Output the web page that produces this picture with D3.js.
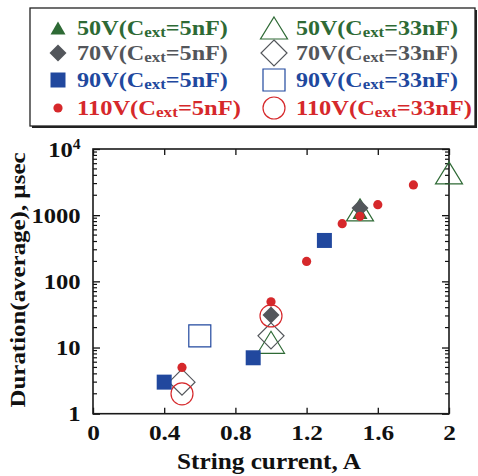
<!DOCTYPE html>
<html>
<head>
<meta charset="utf-8">
<script src="https://cdn.jsdelivr.net/npm/d3@7"></script>
<style>
  body { margin: 0; background: #fff; }
  text { font-family: "Liberation Serif", "Times New Roman", serif; font-weight: bold; }
</style>
</head>
<body>
<div id="chart"></div>
<script>
const xTicks = [0, 0.4, 0.8, 1.2, 1.6, 2];
const yTicks = [1, 10, 100, 1000, 10000];
const yTickLabels = ["1", "10", "100", "1000", "10^4"];

const voltages = ["50V", "70V", "90V", "110V"];
const caps = ["5nF", "33nF"];

// 5nF (filled markers)
const cur50_5 = [1.5],               dur50_5 = [1100];
const cur70_5 = [1.0, 1.5],          dur70_5 = [31, 1280];
const cur90_5 = [0.4, 0.9, 1.3],     dur90_5 = [3, 7, 415];
const cur110_5 = [0.5, 1.0, 1.2, 1.4, 1.5, 1.6, 1.8];
const dur110_5 = [5, 49, 200, 745, 960, 1440, 2860];

// 33nF (open markers)
const cur50_33 = [1.0, 1.5, 2.0],    dur50_33 = [12, 1200, 4350];
const cur70_33 = [0.5, 1.0],         dur70_33 = [3, 15];
const cur90_33 = [0.6],              dur90_33 = [15];
const cur110_33 = [0.5, 1.0],        dur110_33 = [2, 30];

const COLORS = {
    "50V": "#2e6a35",
    "70V": "#53565b",
    "90V": "#21489e",
    "110V": "#d6282b"
};

const zip = (xs, ys) => xs.map((x, i) => ({ x, y: ys[i] }));

// drawing order: open first, filled on top
const series = [
    { v: "50V", cap: "33nF", shape: "triangle", open: true, data: zip(cur50_33, dur50_33) },
    { v: "70V", cap: "33nF", shape: "diamond", open: true, data: zip(cur70_33, dur70_33) },
    { v: "90V", cap: "33nF", shape: "square", open: true, data: zip(cur90_33, dur90_33) },
    { v: "110V", cap: "33nF", shape: "circle", open: true, data: zip(cur110_33, dur110_33) },
    { v: "50V", cap: "5nF", shape: "triangle", open: false, data: zip(cur50_5, dur50_5) },
    { v: "70V", cap: "5nF", shape: "diamond", open: false, data: zip(cur70_5, dur70_5) },
    { v: "90V", cap: "5nF", shape: "square", open: false, data: zip(cur90_5, dur90_5) },
    { v: "110V", cap: "5nF", shape: "circle", open: false, data: zip(cur110_5, dur110_5) }
];

// marker geometry, centred on (0,0)
function shapePath(shape, open) {
    if (shape === "triangle") {
        const w = open ? 27 : 15, h = open ? 22 : 13;
        return `M0,${-h / 2}L${w / 2},${h / 2}L${-w / 2},${h / 2}Z`;
    }
    if (shape === "diamond") {
        const r = open ? 13 : 8.5;
        return `M0,${-r}L${r},0L0,${r}L${-r},0Z`;
    }
    if (shape === "square") {
        const s = open ? 22 : 15;
        return `M${-s / 2},${-s / 2}h${s}v${s}h${-s}Z`;
    }
    const r = open ? 11 : 4.6;
    return `M${r},0A${r},${r} 0 1,1 ${-r},0A${r},${r} 0 1,1 ${r},0Z`;
}

const width = 478, height = 476;
const plot = { left: 93, right: 449, top: 149, bottom: 413.7 };

const svg = d3.select("#chart")
    .append("svg")
    .attr("width", width)
    .attr("height", height);

const x = d3.scaleLinear().domain([0, 2]).range([plot.left, plot.right]);
const y = d3.scaleLog().domain([1, 1e4]).range([plot.bottom, plot.top]);

//////////////////////
//      AXES
//////////////////////
const xAxis = svg.append("g")
    .attr("transform", `translate(0,${plot.bottom})`)
    .call(d3.axisBottom(x).tickValues(xTicks).tickSizeInner(-6).tickSizeOuter(0)
        .tickPadding(11).tickFormat(d => d3.format("")(d)));
svg.append("g")
    .attr("transform", `translate(0,${plot.top})`)
    .call(d3.axisTop(x).tickValues(xTicks).tickSizeInner(-6).tickSizeOuter(0).tickFormat(""));

const yAxis = svg.append("g")
    .attr("transform", `translate(${plot.left},0)`)
    .call(d3.axisLeft(y).tickValues(yTicks).tickSizeInner(-7).tickSizeOuter(0)
        .tickPadding(11).tickFormat((d, i) => yTickLabels[i]));
svg.append("g")
    .attr("transform", `translate(${plot.right},0)`)
    .call(d3.axisRight(y).tickValues(yTicks).tickSizeInner(-7).tickSizeOuter(0).tickFormat(""));

svg.selectAll(".domain").remove();
svg.selectAll(".tick line").attr("stroke", "#111").attr("stroke-width", 1.3);
svg.selectAll(".tick text")
    .attr("fill", "#111")
    .style("font-size", "22px")
    .style("font-family", "'Liberation Serif', serif")
    .style("font-weight", "bold");

// stretch tick labels a little, like the original
xAxis.selectAll(".tick text").attr("transform", "scale(1.15,1)");
yAxis.selectAll(".tick text").attr("transform", "scale(1.12,1)");

// superscript label 10^4
yAxis.selectAll(".tick text").filter(d => d === 10000)
    .text("10")
    .append("tspan")
    .attr("dy", "-0.55em")
    .style("font-size", "14px")
    .text("4");

// minor log ticks
const minor = [];
for (let k = 0; k < 4; k++) for (let m = 2; m <= 9; m++) minor.push(m * Math.pow(10, k));
[[plot.left, 4], [plot.right, -4]].forEach(([x0, len]) => {
    svg.append("g").selectAll("line")
        .data(minor)
        .enter()
        .append("line")
        .attr("x1", x0).attr("x2", x0 + len)
        .attr("y1", d => y(d)).attr("y2", d => y(d))
        .attr("stroke", "#111")
        .attr("stroke-width", 1.2);
});

// frame
svg.append("rect")
    .attr("x", plot.left).attr("y", plot.top)
    .attr("width", plot.right - plot.left).attr("height", plot.bottom - plot.top)
    .attr("fill", "none")
    .attr("stroke", "#1a1a1a")
    .attr("stroke-width", 1.6);

// axis titles
svg.append("text")
    .attr("x", 269).attr("y", 469)
    .attr("text-anchor", "middle")
    .attr("textLength", 184)
    .attr("lengthAdjust", "spacingAndGlyphs")
    .style("font-size", "24px")
    .attr("fill", "#111")
    .text("String current, A");

svg.append("text")
    .attr("transform", "translate(25,280) rotate(-90)")
    .attr("text-anchor", "middle")
    .attr("textLength", 255)
    .attr("lengthAdjust", "spacingAndGlyphs")
    .style("font-size", "22px")
    .attr("fill", "#111")
    .text("Duration(average), µsec");

//////////////////////
//      POINTS
//////////////////////
series.forEach(s => {
    svg.append("g").selectAll("path")
        .data(s.data)
        .enter()
        .append("path")
        .attr("transform", d => `translate(${x(d.x)},${y(d.y)})`)
        .attr("d", shapePath(s.shape, s.open))
        .attr("fill", s.open ? "none" : COLORS[s.v])
        .attr("stroke", COLORS[s.v])
        .attr("stroke-width", s.open ? 1.2 : 0);
});

//////////////////////
//      LEGEND
//////////////////////
const legend = svg.append("g");
legend.append("rect")
    .attr("x", 32).attr("y", 10).attr("width", 445).attr("height", 118)
    .attr("fill", "#222");
legend.append("rect")
    .attr("x", 30).attr("y", 8).attr("width", 445).attr("height", 118)
    .attr("fill", "#fff")
    .attr("stroke", "#222")
    .attr("stroke-width", 1.3);

const rowY = [28, 53, 80, 108];
const colX = [{ marker: 58, text: 77 }, { marker: 274, text: 296 }];
const labelWidths = [[151, 151, 151, 164], [162, 162, 162, 176]];
const shapes = ["triangle", "diamond", "square", "circle"];

caps.forEach((cap, ci) => {
    voltages.forEach((v, ri) => {
        const open = ci === 1;
        legend.append("path")
            .attr("transform", `translate(${colX[ci].marker},${rowY[ri]})`)
            .attr("d", shapePath(shapes[ri], open))
            .attr("fill", open ? "none" : COLORS[v])
            .attr("stroke", COLORS[v])
            .attr("stroke-width", open ? 1.2 : 0);

        const g = legend.append("g");
        const t = g.append("text")
            .attr("fill", COLORS[v])
            .style("font-size", "20px");
        t.append("tspan").text(`${v}(C`);
        t.append("tspan").attr("dy", 2).style("font-size", "14px").text("ext");
        t.append("tspan").attr("dy", -2).text(`=${cap})`);
        const w = t.node().getComputedTextLength();
        g.attr("transform", `translate(${colX[ci].text},${rowY[ri] + 7}) scale(${labelWidths[ci][ri] / w},1)`);
    });
});
</script>
</body>
</html>
